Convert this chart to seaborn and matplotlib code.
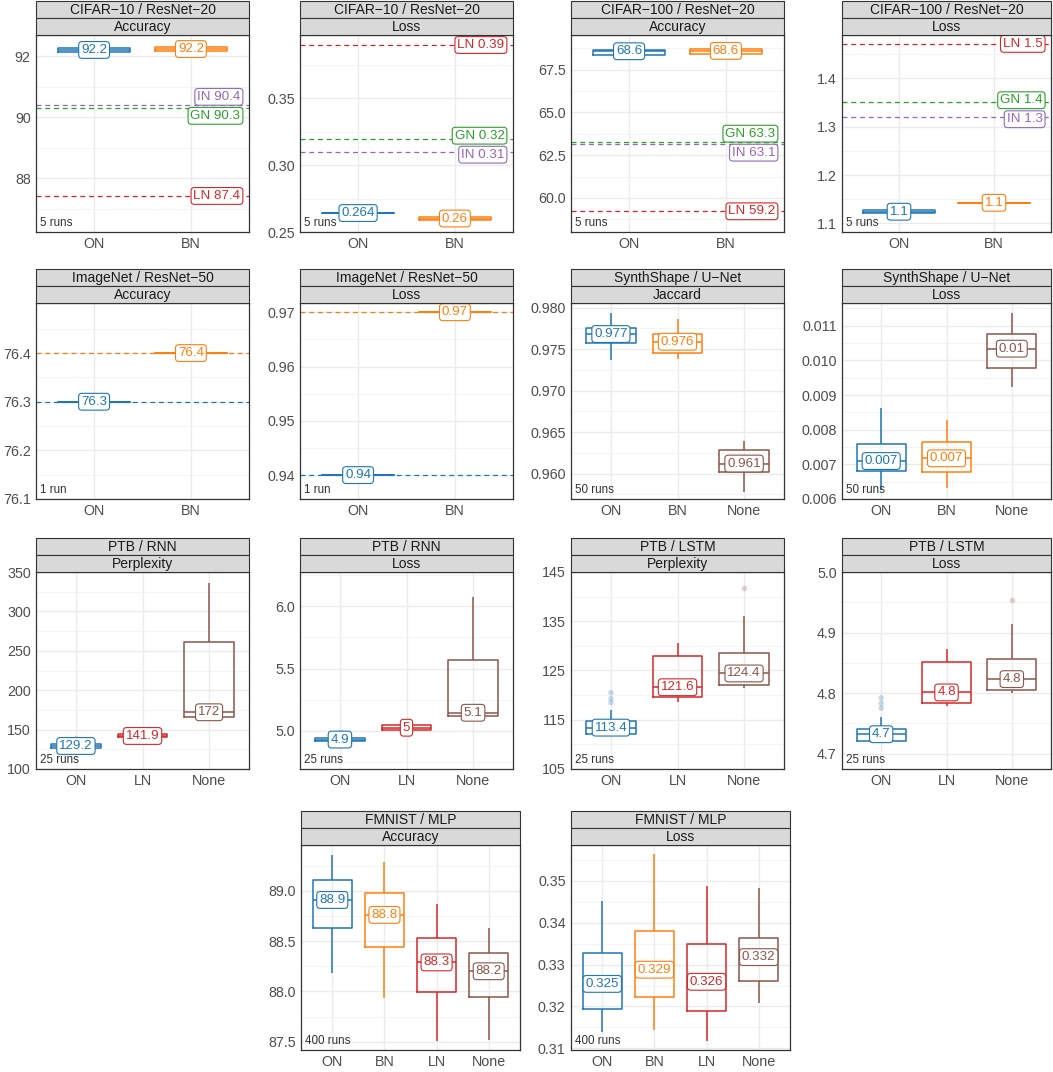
import numpy as np
import pandas as pd
import matplotlib
matplotlib.use("Agg")
from matplotlib import pyplot as plt
from matplotlib.patches import Rectangle
import seaborn as sns

sns.set_style("white")
plt.rcParams["font.family"] = ["Liberation Sans", "DejaVu Sans"]

palette = {"ON": "#1F77B4", "BN": "#FF7F0E", "LN": "#D62728",
           "GN": "#2CA02C", "IN": "#9467BD", "None": "#8C564B"}

# each box: [lower whisker, q1, median, q3, upper whisker]
cifar10_acc = {"ON": [92.12, 92.14, 92.20, 92.26, 92.28], "BN": [92.16, 92.18, 92.23, 92.30, 92.32]}
cifar10_acc_refs = {"IN": 90.40, "GN": 90.31, "LN": 87.42}
cifar10_loss = {"ON": [0.2637, 0.2639, 0.2642, 0.2645, 0.2647], "BN": [0.2588, 0.2592, 0.2601, 0.2612, 0.2616]}
cifar10_loss_refs = {"LN": 0.39, "GN": 0.32, "IN": 0.31}
cifar100_acc = {"ON": [68.33, 68.36, 68.58, 68.65, 68.67], "BN": [68.42, 68.44, 68.60, 68.72, 68.74]}
cifar100_acc_refs = {"GN": 63.28, "IN": 63.13, "LN": 59.22}
cifar100_loss = {"ON": [1.120, 1.121, 1.124, 1.127, 1.128], "BN": [1.1415, 1.142, 1.1425, 1.143, 1.1435]}
cifar100_loss_refs = {"LN": 1.4716, "GN": 1.3505, "IN": 1.32}
imagenet_acc = {"ON": [76.3], "BN": [76.4]}
imagenet_loss = {"ON": [0.94], "BN": [0.97]}
synth_jaccard = {"ON": [0.97370, 0.97572, 0.97683, 0.97752, 0.97940],
                 "BN": [0.97378, 0.97452, 0.97590, 0.97683, 0.97867],
                 "None": [0.95783, 0.96020, 0.96122, 0.96283, 0.96390]}
synth_loss = {"ON": [0.00626, 0.006816, 0.007095, 0.007576, 0.008617],
              "BN": [0.00633, 0.00677, 0.007173, 0.007653, 0.00827],
              "None": [0.009243, 0.00979, 0.010337, 0.010748, 0.011375]}
rnn_ppl = {"ON": [126.5, 127.2, 129.2, 132.3, 133.5], "LN": [139.5, 140.7, 141.9, 144.5, 145.5],
           "None": [164.5, 165.4, 172.0, 260.8, 335.9]}
rnn_ppl_out = {"ON": [139.5]}
rnn_loss = {"ON": [4.90, 4.915, 4.93, 4.945, 4.955], "LN": [5.00, 5.01, 5.025, 5.05, 5.06],
            "None": [5.11, 5.12, 5.145, 5.57, 6.07]}
rnn_loss_out = {"ON": [4.99]}
lstm_ppl = {"ON": [111.9, 112.1, 113.4, 114.7, 116.9], "LN": [118.6, 119.7, 121.6, 127.9, 130.5],
            "None": [121.4, 122.0, 124.4, 128.6, 136.1]}
lstm_ppl_out = {"ON": [118.5, 119.3, 120.5], "None": [141.7]}
lstm_loss = {"ON": [4.718, 4.720, 4.732, 4.741, 4.760], "LN": [4.778, 4.784, 4.801, 4.851, 4.872],
             "None": [4.800, 4.805, 4.823, 4.857, 4.914]}
lstm_loss_out = {"ON": [4.775, 4.783, 4.792], "None": [4.954]}
fmnist_acc = {"ON": [88.180, 88.633, 88.908, 89.106, 89.354], "BN": [87.93, 88.443, 88.76, 88.98, 89.29],
              "LN": [87.51, 87.99, 88.288, 88.533, 88.87], "None": [87.515, 87.94, 88.20, 88.385, 88.633]}
fmnist_loss = {"ON": [0.31395, 0.31931, 0.3254, 0.33270, 0.34529], "BN": [0.31435, 0.32232, 0.3288, 0.33811, 0.35639],
               "LN": [0.31179, 0.31897, 0.3259, 0.33486, 0.3488], "None": [0.32089, 0.32615, 0.3318, 0.33629, 0.34825]}

panels = [
    dict(title="CIFAR−10 / ResNet−20", metric="Accuracy", data=cifar10_acc, refs=cifar10_acc_refs, runs="5 runs",
         ylim=(86.24, 92.69), yticks=[88, 90, 92], tdec=0, ldec=1),
    dict(title="CIFAR−10 / ResNet−20", metric="Loss", data=cifar10_loss, refs=cifar10_loss_refs, runs="5 runs",
         ylim=(0.25, 0.3975), yticks=[0.25, 0.30, 0.35], tdec=2, ldec=3),
    dict(title="CIFAR−100 / ResNet−20", metric="Accuracy", data=cifar100_acc, refs=cifar100_acc_refs, runs="5 runs",
         ylim=(58.01, 69.53), yticks=[60.0, 62.5, 65.0, 67.5], tdec=1, ldec=1),
    dict(title="CIFAR−100 / ResNet−20", metric="Loss", data=cifar100_loss, refs=cifar100_loss_refs, runs="5 runs",
         ylim=(1.082, 1.49), yticks=[1.1, 1.2, 1.3, 1.4], tdec=1, ldec=1),
    dict(title="ImageNet / ResNet−50", metric="Accuracy", data=imagenet_acc, self_lines=True, runs="1 run",
         ylim=(76.1, 76.503), yticks=[76.1, 76.2, 76.3, 76.4], tdec=1, ldec=1),
    dict(title="ImageNet / ResNet−50", metric="Loss", data=imagenet_loss, self_lines=True, runs="1 run",
         ylim=(0.9356, 0.9717), yticks=[0.94, 0.95, 0.96, 0.97], tdec=2, ldec=2),
    dict(title="SynthShape / U−Net", metric="Jaccard", data=synth_jaccard, runs="50 runs",
         ylim=(0.95695, 0.98057), yticks=[0.960, 0.965, 0.970, 0.975, 0.980], tdec=3, ldec=3),
    dict(title="SynthShape / U−Net", metric="Loss", data=synth_loss, runs="50 runs",
         ylim=(0.006, 0.011654), yticks=[0.006, 0.007, 0.008, 0.009, 0.010, 0.011], tdec=3, ldec=3),
    dict(title="PTB / RNN", metric="Perplexity", data=rnn_ppl, out=rnn_ppl_out, runs="25 runs",
         ylim=(100, 350), yticks=[100, 150, 200, 250, 300, 350], tdec=0, ldec=1),
    dict(title="PTB / RNN", metric="Loss", data=rnn_loss, out=rnn_loss_out, runs="25 runs",
         ylim=(4.694, 6.274), yticks=[5.0, 5.5, 6.0], tdec=1, ldec=1),
    dict(title="PTB / LSTM", metric="Perplexity", data=lstm_ppl, out=lstm_ppl_out, runs="25 runs",
         ylim=(105, 145), yticks=[105, 115, 125, 135, 145], tdec=0, ldec=1),
    dict(title="PTB / LSTM", metric="Loss", data=lstm_loss, out=lstm_loss_out, runs="25 runs",
         ylim=(4.6745, 5.0), yticks=[4.7, 4.8, 4.9, 5.0], tdec=1, ldec=1),
    dict(title="FMNIST / MLP", metric="Accuracy", data=fmnist_acc, runs="400 runs",
         ylim=(87.418, 89.454), yticks=[87.5, 88.0, 88.5, 89.0], tdec=1, ldec=1),
    dict(title="FMNIST / MLP", metric="Loss", data=fmnist_loss, runs="400 runs",
         ylim=(0.3096, 0.3586), yticks=[0.31, 0.32, 0.33, 0.34, 0.35], tdec=2, ldec=3),
]

W, H = 1053, 1072
cols = [(36, 249), (300, 513), (571, 784), (842, 1051)]
rows = [(35, 232), (303, 499), (572, 769)]
rects = [(c[0], r[0], c[1], r[1]) for r in rows for c in cols]
rects += [(301, 845, 520, 1050), (571, 845, 790, 1050)]

fig = plt.figure(figsize=(W / 100, H / 100), dpi=100)


def strip(l, r, top, text):
    fig.add_artist(Rectangle((l / W, 1 - (top + 17) / H), (r - l) / W, 17 / H, transform=fig.transFigure,
                             facecolor="#D9D9D9", edgecolor="#333333", linewidth=0.8))
    fig.text((l + r) / 2 / W, 1 - (top + 8.8) / H, text, ha="center", va="center",
             fontsize=10, color="#1A1A1A")


def repel(ax, values, min_gap=19.0):
    px = [ax.transData.transform((0, v))[1] for v in values]
    pos = list(px)
    idx = sorted(range(len(px)), key=lambda i: px[i])
    for _ in range(100):
        moved = False
        for a, b in zip(idx[:-1], idx[1:]):
            gap = pos[b] - pos[a]
            if gap < min_gap - 1e-6:
                shift = (min_gap - gap) / 2
                pos[a] -= shift
                pos[b] += shift
                moved = True
        if not moved:
            break
    return [(p - q) * 72 / 100 for p, q in zip(pos, px)]


def label_box(color):
    return dict(boxstyle="round,pad=0.18,rounding_size=0.25", facecolor="white", edgecolor=color, linewidth=0.8)


for p, (l, t, r, b) in zip(panels, rects):
    ax = fig.add_axes([l / W, 1 - b / H, (r - l) / W, (b - t) / H])
    order = list(p["data"].keys())
    df = pd.DataFrame([(k, v) for k, vals in p["data"].items() for v in vals], columns=["norm", "value"])

    ylo, yhi = p["ylim"]
    ticks = p["yticks"]
    step = ticks[1] - ticks[0]
    minors = [m for m in np.arange(ticks[0] - step / 2, yhi + step, step) if ylo <= m <= yhi]

    for name in order if p.get("self_lines") else []:
        ax.axhline(p["data"][name][0], color=palette[name], ls=(0, (4, 3)), lw=0.9, zorder=2)
    refs = p.get("refs", {})
    for name, v in refs.items():
        ax.axhline(v, color=palette[name], ls=(0, (4, 3)), lw=0.9, zorder=2)

    sns.boxplot(data=df, x="norm", y="value", hue="norm", order=order, hue_order=order, palette=palette,
                fill=False, width=0.75, whis=(0, 100), showcaps=False, showfliers=False,
                linewidth=1.1, legend=False, ax=ax)

    if p.get("out"):
        odf = pd.DataFrame([(k, v) for k, vals in p["out"].items() for v in vals], columns=["norm", "value"])
        sns.stripplot(data=odf, x="norm", y="value", hue="norm", order=order, hue_order=order,
                      palette=palette, jitter=False, alpha=0.25, size=4, linewidth=0, legend=False, ax=ax)

    ax.set_xlim(-0.6, len(order) - 1 + 0.6)
    ax.set_ylim(ylo, yhi)
    ax.set_yticks(ticks)
    ax.set_yticklabels([f"{v:.{p['tdec']}f}" for v in ticks])
    ax.set_yticks(minors, minor=True)
    ax.grid(True, which="major", color="#EBEBEB", lw=1.0)
    ax.grid(True, which="minor", axis="y", color="#F2F2F2", lw=0.6)
    ax.set_axisbelow(True)
    ax.set_xlabel("")
    ax.set_ylabel("")
    ax.tick_params(which="major", direction="out", length=2.3, width=0.8, color="#333333",
                   labelsize=10.3, labelcolor="#4D4D4D", pad=1.5)
    ax.tick_params(which="minor", length=0)
    for s in ax.spines.values():
        s.set_color("#333333")
        s.set_linewidth(0.9)

    for i, name in enumerate(order):
        med = float(np.median(p["data"][name]))
        ax.text(i, med, f"{round(med, p['ldec']):g}", ha="center", va="center", color=palette[name],
                fontsize=9.6, zorder=6, bbox=label_box(palette[name]))

    if refs:
        names = list(refs.keys())
        offs = repel(ax, [refs[n] for n in names])
        for name, dy in zip(names, offs):
            ax.annotate(f"{name} {round(refs[name], p['ldec']):g}", xy=(0.96, refs[name]),
                        xycoords=("axes fraction", "data"), xytext=(0, dy), textcoords="offset points",
                        ha="right", va="center", color=palette[name], fontsize=9.6, zorder=6,
                        bbox=label_box(palette[name]))

    ax.text(0.018, 0.015, p["runs"], transform=ax.transAxes, ha="left", va="bottom",
            fontsize=8.4, color="#333333", zorder=7)

    strip(l, r, t - 34, p["title"])
    strip(l, r, t - 17, p["metric"])

fig.savefig("out.png", dpi=100)
plt.close(fig)
